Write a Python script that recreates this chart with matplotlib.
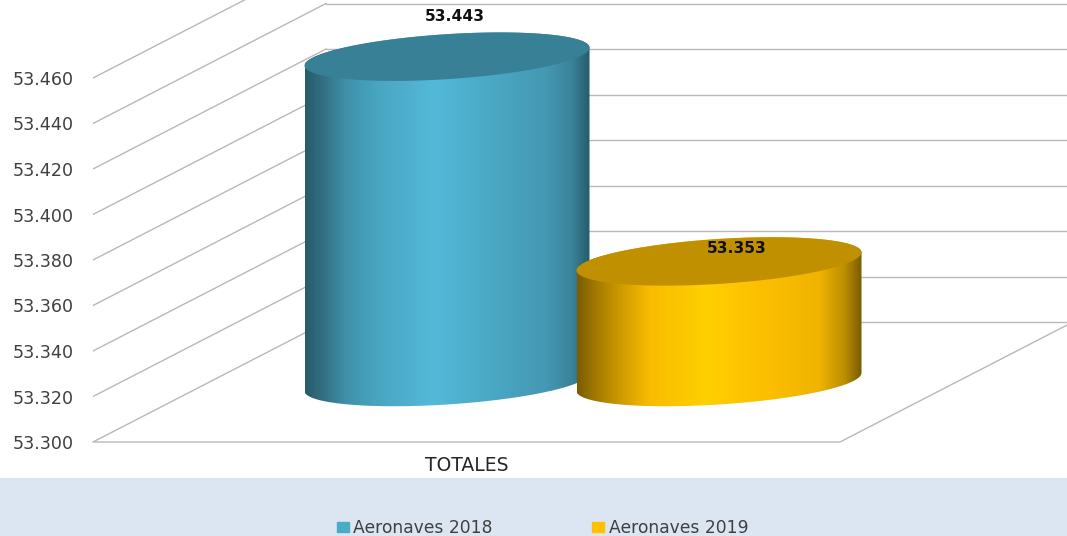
import matplotlib
matplotlib.use("Agg")
import matplotlib.pyplot as plt
import numpy as np
from matplotlib.colors import LinearSegmentedColormap
from matplotlib.patches import Patch, Polygon, Rectangle

# Chart data
categories = ["TOTALES"]
series_names = ["Aeronaves 2018", "Aeronaves 2019"]
values = [53443, 53353]
labels = ["53.443", "53.353"]
y_ticks = [53300, 53320, 53340, 53360, 53380, 53400, 53420, 53440, 53460]
y_tick_labels = ["53.300", "53.320", "53.340", "53.360", "53.380", "53.400", "53.420", "53.440", "53.460"]

# Scale of the front plane in pixels
PX_W = 747.0          # floor width
PX_PER_UNIT = 2.275
x_u = 1 / PX_W
y_u = 1 / PX_PER_UNIT
BASE = y_ticks[0]
DEPTH_X = 233 * x_u
DEPTH_Y = 120 * y_u

fig = plt.figure(figsize=(10.67, 5.36), dpi=100)
fig.add_artist(Rectangle((0, 0), 1, 58 / 536, transform=fig.transFigure, color="#dce6f2", lw=0, zorder=-5))
ax = fig.add_axes([93 / 1067, 94 / 536, 974 / 1067, 442 / 536])
ax.patch.set_alpha(0)
ax.set_xlim(0, 974 * x_u)
ax.set_ylim(BASE, BASE + 442 * y_u)
for s in ax.spines.values():
    s.set_visible(False)

# Walls and floor
grid_c = "#b8b8b8"
for t in y_ticks:
    ax.plot([0, DEPTH_X], [t, t + DEPTH_Y], color=grid_c, lw=1.0, zorder=1)
    ax.plot([DEPTH_X, 1 + DEPTH_X], [t + DEPTH_Y, t + DEPTH_Y], color=grid_c, lw=1.0, zorder=1)
ax.plot([0, 1, 1 + DEPTH_X], [BASE, BASE, BASE + DEPTH_Y], color=grid_c, lw=1.0, zorder=1, clip_on=False)

ax.set_yticks(y_ticks)
ax.set_yticklabels(y_tick_labels, fontsize=12.6, color="#404040")
ax.tick_params(axis="y", length=0, pad=13.5)
ax.set_xticks([0.5])
ax.set_xticklabels(categories, fontsize=13.5, color="#262626")
ax.tick_params(axis="x", length=0, pad=10)

# Cylinders
bar_w = 285 * x_u
half_gap = 136 * x_u
centers = [0.5 - half_gap, 0.5 + half_gap]
stop_pos = [0, 0.06, 0.14, 0.25, 0.45, 0.65, 0.85, 0.94, 1]
stops = [
    ["#265c6b", "#336f82", "#3f90a8", "#48a5c0", "#54b9d9", "#4aa9c5", "#4498b2", "#3a8298", "#265c6b"],
    ["#7a5c00", "#a07800", "#c89600", "#f8bb00", "#ffd000", "#fcbf00", "#f0b400", "#bd8e00", "#7a5c00"],
]
top_colors = ["#388096", "#c09000"]
swatches = ["#4bacc6", "#ffc000"]
label_dx = [8, 17.5]
label_dy = [40, 13]


def ellipse(cx, cy, t):
    # tilted ellipse, as the depth shear gives it
    a = 142.5
    x = cx + a * np.cos(t) * x_u
    y = cy + (9 * np.cos(t) + 22.5 * np.sin(t)) * y_u
    return np.column_stack([x, y])


for i, v in enumerate(values):
    cx = centers[i] + DEPTH_X / 2
    base_y = BASE + DEPTH_Y / 2
    top_y = v + DEPTH_Y / 2
    tt = np.linspace(0, 2 * np.pi, 200)
    low = np.linspace(np.pi, 2 * np.pi, 100)
    up = np.linspace(0, np.pi, 100)
    outline = np.vstack([ellipse(cx, base_y, low), ellipse(cx, top_y, up)])
    poly = Polygon(outline, closed=True, transform=ax.transData, fc="none", ec="none")
    ax.add_patch(poly)
    cmap = LinearSegmentedColormap.from_list("cyl%d" % i, list(zip(stop_pos, stops[i])))
    img = ax.imshow(np.linspace(0, 1, 256).reshape(1, -1), cmap=cmap, aspect="auto",
                    extent=(cx - bar_w / 2, cx + bar_w / 2, BASE, top_y + 40 * y_u),
                    zorder=3 + i, interpolation="bilinear")
    img.set_clip_path(poly)
    ax.add_patch(Polygon(ellipse(cx, top_y, tt), closed=True, fc=top_colors[i], ec="none", zorder=3 + i))
    ax.text(cx + label_dx[i] * x_u, top_y + label_dy[i] * y_u, labels[i], ha="center", va="center",
            fontsize=11.2, fontweight="bold", color="#111111", zorder=6)

ax.set_xlim(0, 974 * x_u)
ax.set_ylim(BASE, BASE + 442 * y_u)

# Legend
handles = [Patch(color=swatches[k], label=series_names[k]) for k in range(2)]
fig.legend(handles=handles, loc="center", bbox_to_anchor=(542.5 / 1067, 1 - 528 / 536), ncol=2, frameon=False,
           fontsize=12.3, labelcolor="#404040", handlelength=0.7, handleheight=0.55, handletextpad=0.25,
           columnspacing=5.85, borderpad=0, borderaxespad=0)

fig.savefig("out.png", dpi=100)
